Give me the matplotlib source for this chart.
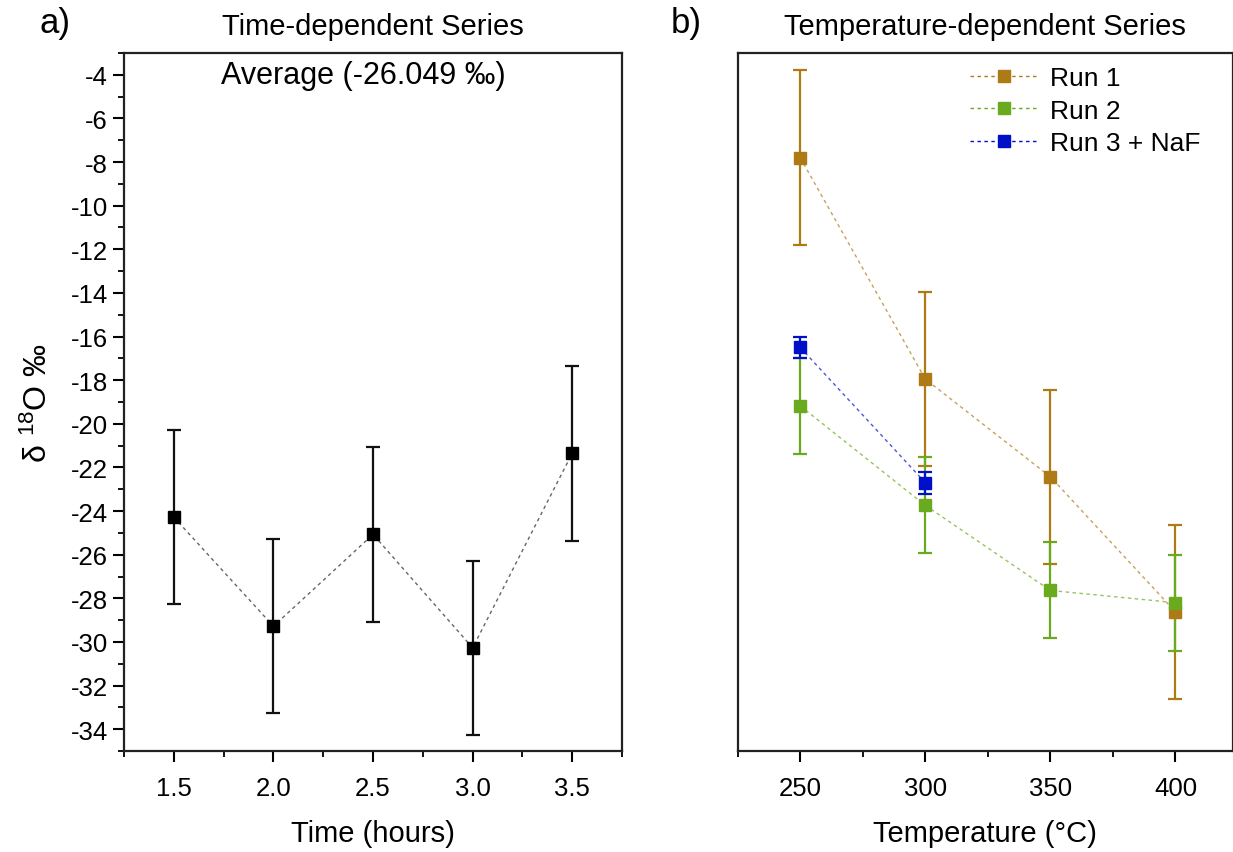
import numpy as np
import matplotlib
matplotlib.use('Agg')
import matplotlib.pyplot as plt
from matplotlib.ticker import MultipleLocator, FormatStrFormatter
from matplotlib.lines import Line2D

plt.rcParams['font.family'] = ['Liberation Sans', 'DejaVu Sans']
plt.rcParams['axes.unicode_minus'] = False
plt.rcParams['mathtext.default'] = 'regular'

# Panel a: time-dependent series
time_h = [1.5, 2.0, 2.5, 3.0, 3.5]
time_d18o = [-24.28, -29.28, -25.07, -30.27, -21.35]
time_err = [4.0, 4.0, 4.0, 4.0, 4.0]
average_label = 'Average (-26.049 \u2030)'

# Panel b: temperature-dependent series
temps = [250, 300, 350, 400]
run1 = [-7.8, -17.95, -22.43, -28.62]
run1_err = [4.0, 4.0, 4.0, 4.0]
run2 = [-19.18, -23.74, -27.64, -28.2]
run2_err = [2.2, 2.2, 2.2, 2.2]
run3_temps = [250, 300]
run3 = [-16.5, -22.7]
run3_err = [0.47, 0.5]
run_labels = ['Run 1', 'Run 2', 'Run 3 + NaF']

C_RUN1 = '#AE7A16'
C_RUN2 = '#6AAA1E'
C_RUN3 = '#0010C8'
DASH = (0, (2.5, 2.5))

fig = plt.figure(figsize=(12.33, 8.53), dpi=100)
ax1 = fig.add_axes([0.1006, 0.1184, 0.4039, 0.8183])
ax2 = fig.add_axes([0.5983, 0.1184, 0.4017, 0.8183])

# ---- panel a
ax1.plot(time_h, time_d18o, ls=DASH, lw=1.0, color='#666666', zorder=2)
ax1.errorbar(time_h, time_d18o, yerr=time_err, fmt='s', color='black', ms=8.5,
             ecolor='#111111', elinewidth=1.6, capsize=5, capthick=1.6, zorder=3)
ax1.set_xlim(1.25, 3.75)
ax1.set_ylim(-35, -3)
ax1.xaxis.set_major_locator(MultipleLocator(0.5))
ax1.xaxis.set_minor_locator(MultipleLocator(0.25))
ax1.yaxis.set_major_locator(MultipleLocator(2))
ax1.yaxis.set_minor_locator(MultipleLocator(1))
ax1.xaxis.set_major_formatter(FormatStrFormatter('%.1f'))
ax1.set_xlabel('Time (hours)', fontsize=21, labelpad=14)
ax1.set_ylabel('\u03b4 $^{18}$O \u2030', fontsize=23)
ax1.yaxis.set_label_coords(-0.14, 0.5)
ax1.set_title('Time-dependent Series', fontsize=21, pad=14)
ax1.text(0.48, 0.968, average_label, transform=ax1.transAxes, ha='center', va='center',
         fontsize=22)
fig.text(0.032, 0.972, 'a)', fontsize=25, va='center')

# ---- panel b
for t, y, e, c in [(temps, run1, run1_err, C_RUN1),
                   (temps, run2, run2_err, C_RUN2),
                   (run3_temps, run3, run3_err, C_RUN3)]:
    ax2.plot(t, y, ls=DASH, lw=1.0, color=c, alpha=0.7, zorder=2)
    ax2.errorbar(t, y, yerr=e, fmt='s', color=c, ms=8.5, ecolor=c, elinewidth=1.6,
                 capsize=5, capthick=1.6, zorder=3)

handles = [Line2D([], [], color=c, ls=DASH, lw=1.0, marker='s', ms=8.5,
                  markerfacecolor=c, markeredgecolor=c)
           for c in (C_RUN1, C_RUN2, C_RUN3)]
ax2.legend(handles, run_labels, loc='upper left', bbox_to_anchor=(0.431, 1.008),
           frameon=False, fontsize=19, handlelength=2.6, handletextpad=0.45,
           labelspacing=0.33, borderaxespad=0.3)

ax2.set_xlim(225, 423)
ax2.set_ylim(-35, -3)
ax2.xaxis.set_major_locator(MultipleLocator(50))
ax2.xaxis.set_minor_locator(MultipleLocator(25))
ax2.set_yticks([])
ax2.set_xlabel('Temperature (\u00b0C)', fontsize=21, labelpad=14)
ax2.set_title('Temperature-dependent Series', fontsize=21, pad=14)
fig.text(0.544, 0.972, 'b)', fontsize=25, va='center')

for ax in (ax1, ax2):
    for s in ax.spines.values():
        s.set_linewidth(1.6)
        s.set_color('#222222')
    ax.tick_params(which='major', direction='out', length=8, width=1.5, labelsize=18.5,
                   top=False, right=False)
    ax.tick_params(which='minor', direction='out', length=4.5, width=1.3,
                   top=False, right=False)
    ax.tick_params(axis='x', pad=10)

fig.savefig('out.png', dpi=100, facecolor='white')
